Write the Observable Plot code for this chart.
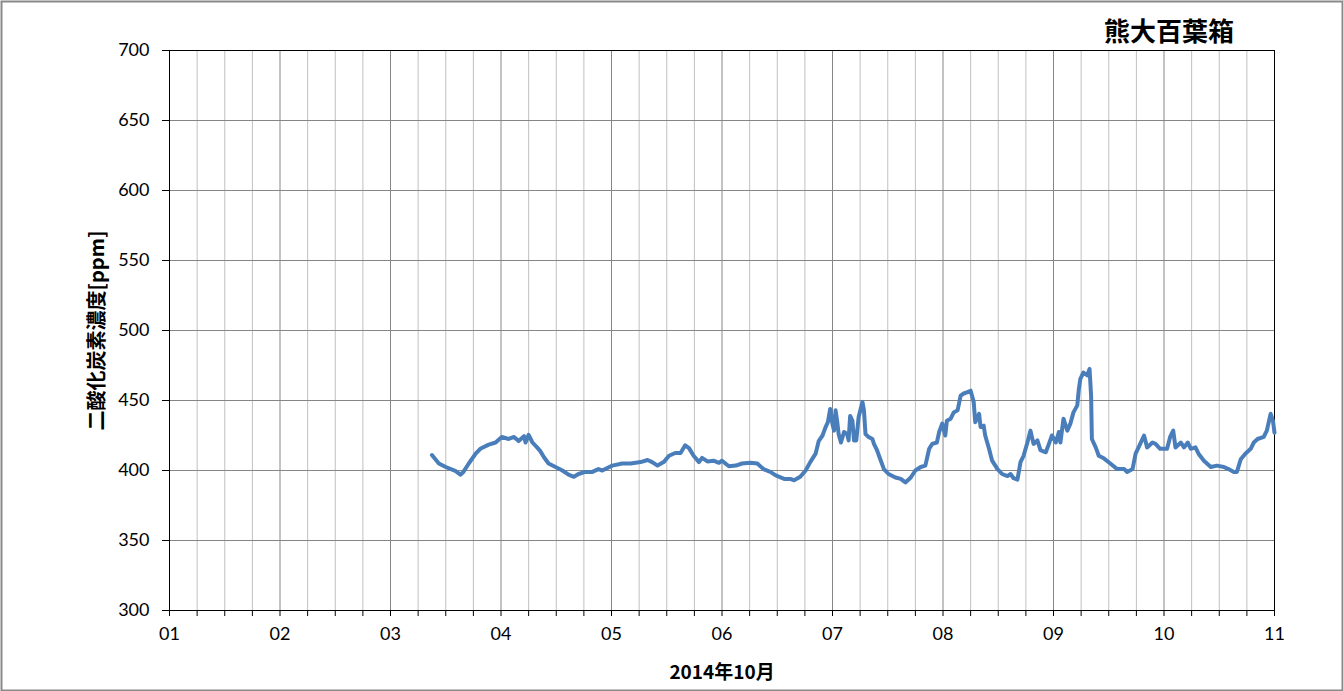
<!DOCTYPE html>
<html>
<head>
<meta charset="utf-8">
<script src="https://cdn.jsdelivr.net/npm/d3@7"></script>
<script src="https://cdn.jsdelivr.net/npm/@observablehq/plot@0.6"></script>
<style>
  html, body { margin: 0; padding: 0; background: #fff; }
  #chart { width: 1343px; height: 691px; }
</style>
</head>
<body>
<div id="chart"></div>
<script>
// ---- data (October 2014, day + time of day) ----
const times = [
  "03 09:00","03 10:30","03 12:00","03 14:10","03 15:10","03 15:50","03 17:00","03 18:30","03 19:30","03 21:20","03 22:50",
  "04 00:10","04 01:40","04 02:50","04 03:50","04 05:00","04 05:20","04 06:00","04 06:50","04 07:50","04 08:30","04 09:20",
  "04 10:20","04 11:50","04 13:20","04 14:40","04 15:50","04 16:50","04 18:20","04 19:50","04 21:10","04 22:00",
  "05 00:10","05 02:20","05 04:10","05 06:20","05 07:50","05 08:50","05 10:00","05 11:20","05 12:30","05 13:50","05 15:00",
  "05 16:00","05 16:50","05 17:50","05 19:00","05 19:40","05 20:50","05 22:10","05 23:20",
  "06 00:00","06 01:30","06 03:00","06 04:20","06 06:10","06 07:40","06 09:00","06 10:30","06 11:40","06 13:30","06 14:50",
  "06 15:40","06 17:00","06 18:10","06 19:10","06 20:20","06 21:00","06 21:50","06 22:30","06 23:00","06 23:30",
  "07 00:00","07 00:20","07 00:40","07 01:00","07 01:20","07 01:50","07 02:30","07 03:10","07 03:30","07 03:50","07 04:20",
  "07 04:40","07 05:10","07 05:40","07 06:30","07 06:50","07 07:10","07 07:50","07 08:40","07 09:00","07 09:40","07 10:30",
  "07 11:10","07 12:10","07 13:40","07 14:50","07 15:50","07 17:00","07 18:00","07 19:10","07 20:10","07 21:00","07 21:40",
  "07 22:40","07 23:10","07 23:50",
  "08 00:30","08 00:50","08 01:40","08 02:20","08 03:10","08 03:50","08 04:30","08 05:20","08 06:00","08 06:40","08 07:00",
  "08 07:50","08 08:10","08 08:50","08 09:10","08 10:00","08 10:40","08 11:50","08 12:50","08 14:00","08 14:40","08 15:20",
  "08 16:10","08 16:50","08 17:30","08 18:20","08 19:00","08 19:40","08 20:30","08 21:10","08 22:20","08 23:00","08 23:40",
  "09 00:30","09 01:10","09 01:30","09 02:10","09 03:00","09 03:40","09 04:20","09 05:10","09 05:30","09 05:50","09 06:30",
  "09 07:20","09 07:50","09 08:10","09 08:20","09 09:10","09 09:50","09 11:00","09 12:20","09 13:50","09 15:20","09 16:00",
  "09 17:10","09 17:50","09 18:50","09 19:40","09 20:20","09 21:30","09 22:10","09 23:10",
  "10 00:40","10 01:20","10 02:00","10 02:30","10 03:40","10 04:20","10 05:10","10 05:50","10 06:50","10 07:30","10 08:40",
  "10 10:10","10 11:30","10 13:00","10 14:00","10 15:10","10 15:50","10 16:40","10 17:40","10 18:50","10 19:30","10 20:20",
  "10 21:40","10 22:20","10 23:10","10 23:40",
  "11 00:00"
];
const co2 = [
  411,405,402.5,399.5,397,399,405,412,415.5,418.5,420,
  424,422.5,424,421,424.5,420,425.5,420,416.5,414,409.5,
  405,402.5,400,397,395.5,397.5,399,399,401,400,
  403.5,405,405,406,407.5,406,403.5,406,410.5,412.5,412.5,
  418,416,410.5,406,409,406.5,407,405.5,
  407,403,403.5,405,405.5,405,401,399,396.5,394,394,
  393,395.5,400,406,412,421,425,431,434.5,444,
  433,428.5,443,435.5,426,420,427.5,426,421.5,439,435.5,
  421.5,421.5,438,449,443,426,424,422.5,419,414.5,407,
  401,397.5,395,394,391.5,395,400,402.5,403.5,415.5,419,
  420,427.5,433.5,
  425,435.5,437,441.5,443,453.5,455,456,457,449,434.5,
  440.5,431,432,425,415.5,407,401,397.5,396,397.5,394.5,
  393.5,406,410.5,420,428.5,419,421.5,414.5,413,419,425,
  420,427.5,420,437,428.5,433.5,441.5,446.5,458,465.5,470,
  468,472.5,453.5,422.5,416.5,410.5,408.5,405,401,401,399,
  401,412,419,425,416.5,420,419,415.5,
  415.5,424,428.5,416.5,420,416.5,420,415.5,416.5,412,407,
  402.5,403.5,402.5,401,399,399,408,412,415.5,420,422.5,
  424,428.5,440.5,435.5,
  427
];
const dayLabels = ["01","02","03","04","05","06","07","08","09","10","11"];
const yTicks = [300, 350, 400, 450, 500, 550, 600, 650, 700];
const title = "熊大百葉箱";
const yLabel = "二酸化炭素濃度[ppm]";
const xLabel = "2014年10月";

// ---- build ----
const parse = d3.utcParse("%Y-%m-%d %H:%M");
const data = times.map((t, i) => ({date: parse("2014-10-" + t), value: co2[i]}));
const dayTicks = dayLabels.map(d => parse("2014-10-" + d + " 00:00"));
const minorTicks = [];
for (let i = 0; i < dayTicks.length - 1; i++) {
  for (const h of [6, 12, 18]) minorTicks.push(d3.utcHour.offset(dayTicks[i], h));
}
const dayFmt = d3.utcFormat("%d");

const cjk = "'Noto Sans CJK JP', 'Noto Sans', sans-serif";

const chart = Plot.plot({
  width: 1343,
  height: 691,
  marginLeft: 169,
  marginRight: 69,
  marginTop: 50,
  marginBottom: 81,
  style: {fontFamily: "Lato, 'Open Sans', sans-serif", fontSize: "18px", color: "#000", background: "#fff", overflow: "visible"},
  x: {type: "utc", domain: [dayTicks[0], dayTicks[dayTicks.length - 1]], label: null},
  y: {domain: [300, 700], label: null},
  marks: [
    Plot.gridX(minorTicks, {stroke: "#c0c0c0", strokeOpacity: 1}),
    Plot.gridX(dayTicks, {stroke: "#868686", strokeOpacity: 1}),
    Plot.gridY(yTicks, {stroke: "#868686", strokeOpacity: 1}),
    Plot.frame({stroke: "#000"}),
    Plot.axisY(yTicks, {tickSize: 7, tickPadding: 13, label: null}),
    Plot.axisX(minorTicks, {tickSize: 6, tickFormat: () => "", label: null}),
    Plot.axisX(dayTicks, {tickSize: 6, tickPadding: 11, tickFormat: d => dayFmt(d), label: null}),
    Plot.line(data, {x: "date", y: "value", stroke: "#4A7EBB", strokeWidth: 4, strokeLinejoin: "round", strokeLinecap: "round"}),
    Plot.text([title], {frameAnchor: "top", dx: 447, dy: -18, text: d => d, fontFamily: cjk, fontSize: 26, fontWeight: "bold", lineAnchor: "middle", textAnchor: "middle"}),
    Plot.text([yLabel], {frameAnchor: "left", dx: -72, text: d => d, rotate: -90, fontFamily: cjk, fontSize: 20, fontWeight: "bold", lineAnchor: "middle", textAnchor: "middle"}),
    Plot.text([xLabel], {frameAnchor: "bottom", dy: 62, text: d => d, fontFamily: cjk, fontSize: 19, fontWeight: "bold", lineAnchor: "middle", textAnchor: "middle"}),
    Plot.frame({stroke: "#898989", strokeWidth: 2, insetLeft: -168, insetTop: -49, insetRight: -68, insetBottom: -80})
  ]
});
document.getElementById("chart").appendChild(chart);
</script>
</body>
</html>
